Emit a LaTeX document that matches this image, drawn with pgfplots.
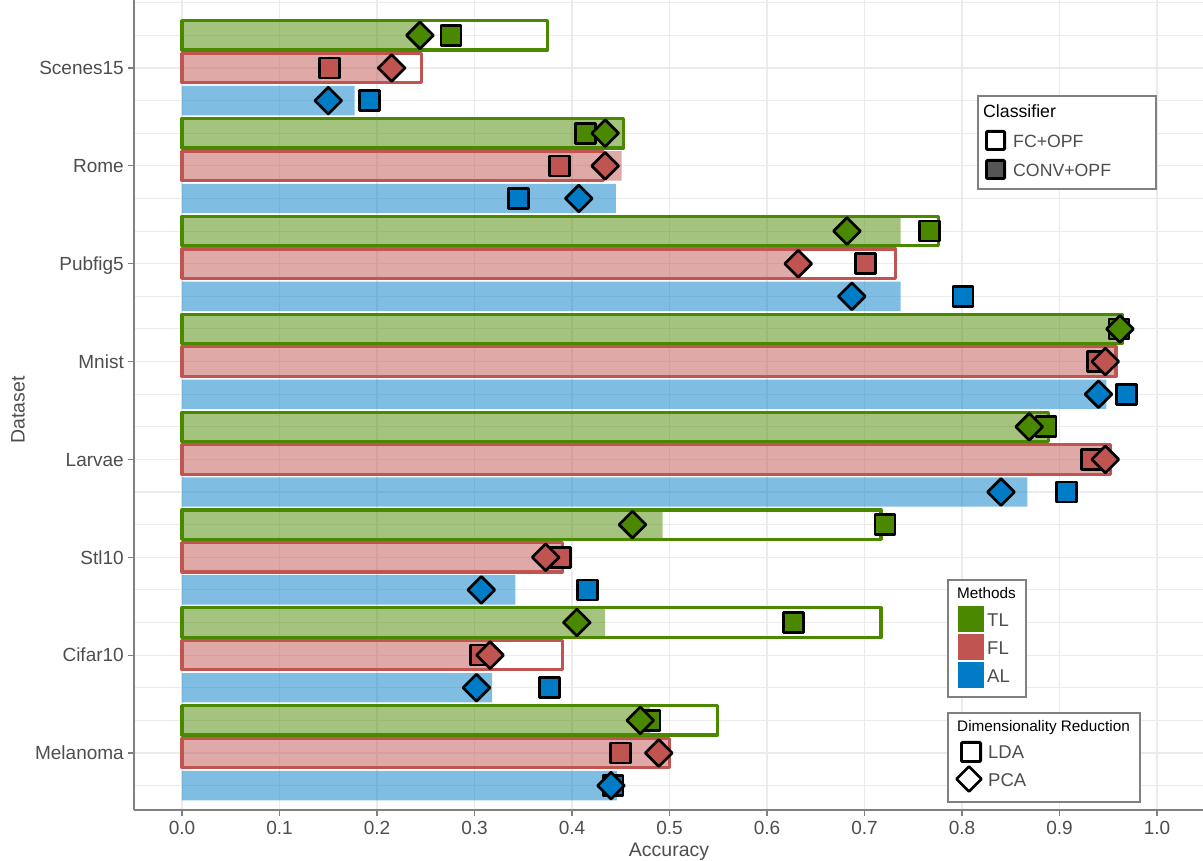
\documentclass[border=0pt]{standalone}
\usepackage{fontspec}
\setmainfont{Liberation Sans}
\usepackage{pgfplots}
\usepackage{pgfplotstable}
\pgfplotsset{compat=1.18}

\definecolor{tlcol}{RGB}{74,136,0}
\definecolor{flcol}{RGB}{192,84,80}
\definecolor{alcol}{RGB}{0,124,198}
\definecolor{gridcol}{RGB}{235,235,235}
\definecolor{txtcol}{RGB}{77,77,77}
\definecolor{axcol}{RGB}{128,128,128}
\definecolor{convkey}{RGB}{85,85,85}

% k: dataset row (1 = Melanoma ... 8 = Scenes15)
% conv: CONV+OPF bar, fc: FC+OPF bar, lda / pca: accuracy after LDA / PCA
\pgfplotstableread{
k conv  fc    lda   pca
8 0.245 0.375 0.276 0.244
7 0.452 0.453 0.414 0.434
6 0.737 0.776 0.767 0.682
5 0.963 0.964 0.961 0.962
4 0.888 0.889 0.886 0.869
3 0.493 0.717 0.721 0.462
2 0.434 0.717 0.627 0.405
1 0.480 0.549 0.480 0.470
}\tltab
\pgfplotstableread{
k conv  fc    lda   pca
8 0.218 0.246 0.151 0.215
7 0.451 0.432 0.387 0.434
6 0.633 0.732 0.701 0.632
5 0.958 0.958 0.939 0.947
4 0.952 0.952 0.933 0.947
3 0.389 0.390 0.388 0.373
2 0.316 0.390 0.306 0.316
1 0.500 0.500 0.450 0.489
}\fltab
\pgfplotstableread{
k conv  lda   pca
8 0.177 0.192 0.150
7 0.445 0.345 0.407
6 0.737 0.801 0.687
5 0.948 0.969 0.940
4 0.867 0.907 0.840
3 0.342 0.416 0.307
2 0.318 0.377 0.302
1 0.446 0.442 0.440
}\altab

\pgfplotsset{
  convbar/.style={xbar, bar width=0.3, bar shift=0pt, draw=none, fill=#1, fill opacity=0.5},
  fcbar/.style={xbar, bar width=0.3, bar shift=0pt, fill=none, draw=#1, line width=3.2pt, line join=round},
  ldamark/.style={only marks, mark=square*, mark size=10pt,
    mark options={fill=#1, draw=black, line width=2.7pt, line join=round}},
  pcamark/.style={only marks, mark=square*, mark size=9.5pt,
    mark options={fill=#1, draw=black, line width=2.7pt, line join=round, rotate=45}},
}

\newcommand{\ticksize}{\fontsize{19}{21}\selectfont}
\newcommand{\legsize}{\fontsize{17.7}{20}\selectfont}
\newcommand{\legtitle}{\fontsize{15.3}{17}\selectfont}

\begin{document}
\begin{tikzpicture}
\path[use as bounding box] (-134pt,-51pt) rectangle (1069pt,810pt);
\begin{axis}[
  at={(0pt,0pt)}, anchor=south west,
  scale only axis, width=1069pt, height=810pt,
  xmin=-0.04923, xmax=1.04718,
  ymin=0.4175, ymax=8.6949,
  axis lines=left,
  axis line style={axcol, line width=1.2pt, -},
  tick align=outside,
  major tick length=6pt, minor tick length=0pt,
  tick style={axcol, line width=1.2pt},
  xtick={0,0.1,0.2,0.3,0.4,0.5,0.6,0.7,0.8,0.9,1},
  xticklabels={0.0,0.1,0.2,0.3,0.4,0.5,0.6,0.7,0.8,0.9,1.0},
  ytick={1,2,3,4,5,6,7,8},
  yticklabels={Melanoma,Cifar10,Stl10,Larvae,Mnist,Pubfig5,Rome,Scenes15},
  minor ytick={0.6667,1.3333,1.6667,2.3333,2.6667,3.3333,3.6667,4.3333,4.6667,
    5.3333,5.6667,6.3333,6.6667,7.3333,7.6667,8.3333,8.6667},
  xmajorgrids, ymajorgrids, yminorgrids,
  major grid style={gridcol, line width=1.1pt},
  minor grid style={gridcol, line width=1.1pt},
  xticklabel style={font=\ticksize, text=txtcol, anchor=base, inner sep=0pt, yshift=-18.5pt},
  yticklabel style={font=\ticksize, text=txtcol, anchor=base east, inner sep=0pt, xshift=-4pt, yshift=-6.8pt},
  xlabel={Accuracy}, ylabel={Dataset},
  every axis x label/.style={at={(axis description cs:0.5005,-0.058)}, anchor=base,
    font=\fontsize{19.5}{22}\selectfont, text=txtcol},
  every axis y label/.style={at={(axis description cs:-0.1085,0.4938)}, rotate=90, anchor=center,
    font=\fontsize{19.5}{22}\selectfont, text=txtcol},
]
% CONV+OPF bars (filled)
\addplot[convbar=tlcol] table[x=conv, y expr=\thisrow{k}+0.33333] {\tltab};
\addplot[convbar=flcol] table[x=conv, y=k] {\fltab};
\addplot[convbar=alcol] table[x=conv, y expr=\thisrow{k}-0.33333] {\altab};
% FC+OPF bars (outlined)
\addplot[fcbar=tlcol] table[x=fc, y expr=\thisrow{k}+0.33333] {\tltab};
\addplot[fcbar=flcol] table[x=fc, y=k] {\fltab};
% LDA markers
\addplot[ldamark=tlcol] table[x=lda, y expr=\thisrow{k}+0.33333] {\tltab};
\addplot[ldamark=flcol] table[x=lda, y=k] {\fltab};
\addplot[ldamark=alcol] table[x=lda, y expr=\thisrow{k}-0.33333] {\altab};
% PCA markers
\addplot[pcamark=tlcol] table[x=pca, y expr=\thisrow{k}+0.33333] {\tltab};
\addplot[pcamark=flcol] table[x=pca, y=k] {\fltab};
\addplot[pcamark=alcol] table[x=pca, y expr=\thisrow{k}-0.33333] {\altab};
\end{axis}

% legends, laid out in pixel-like units from the top-left corner
\begin{scope}[x=1pt, y=-1pt, xshift=-134pt, yshift=810pt]
  % Classifier
  \draw[axcol, line width=1.3pt, fill=white] (978,96) rectangle (1156,189);
  \node[anchor=base west, inner sep=0pt, font=\legsize] at (983,118) {Classifier};
  \draw[black, line width=2.8pt, fill=white, rounded corners=1pt] (986.4,131.4) rectangle (1004.6,149.6);
  \node[anchor=base west, inner sep=0pt, font=\legsize, text=txtcol] at (1013,147.5) {FC+OPF};
  \draw[black, line width=2.8pt, fill=convkey, rounded corners=1pt] (986.4,160.4) rectangle (1004.6,178.6);
  \node[anchor=base west, inner sep=0pt, font=\legsize, text=txtcol] at (1013,176.5) {CONV+OPF};
  % Methods
  \draw[axcol, line width=1.3pt, fill=white] (948,580) rectangle (1026,697);
  \node[anchor=base west, inner sep=0pt, font=\legtitle] at (957,599) {Methods};
  \fill[tlcol] (958,606) rectangle (984,632);
  \fill[flcol] (958,634) rectangle (984,660);
  \fill[alcol] (958,662) rectangle (984,688);
  \node[anchor=base west, inner sep=0pt, font=\fontsize{18.5}{20}\selectfont, text=txtcol] at (987,627) {TL};
  \node[anchor=base west, inner sep=0pt, font=\fontsize{18.5}{20}\selectfont, text=txtcol] at (987,655) {FL};
  \node[anchor=base west, inner sep=0pt, font=\fontsize{18.5}{20}\selectfont, text=txtcol] at (987,683) {AL};
  % Dimensionality Reduction
  \draw[axcol, line width=1.3pt, fill=white] (948,713) rectangle (1140,802);
  \node[anchor=base west, inner sep=0pt, font=\legtitle] at (957,732) {Dimensionality Reduction};
  \draw[black, line width=2.8pt, fill=white, rounded corners=1pt] (961.4,742.4) rectangle (980.6,761.6);
  \node[anchor=base west, inner sep=0pt, font=\fontsize{18.5}{20}\selectfont, text=txtcol] at (988,759) {LDA};
  \draw[black, line width=2.8pt, fill=white, line join=round] (969,766.5) -- (981.5,779) -- (969,791.5) -- (956.5,779) -- cycle;
  \node[anchor=base west, inner sep=0pt, font=\fontsize{18.5}{20}\selectfont, text=txtcol] at (988,787) {PCA};
\end{scope}
\end{tikzpicture}
\end{document}
